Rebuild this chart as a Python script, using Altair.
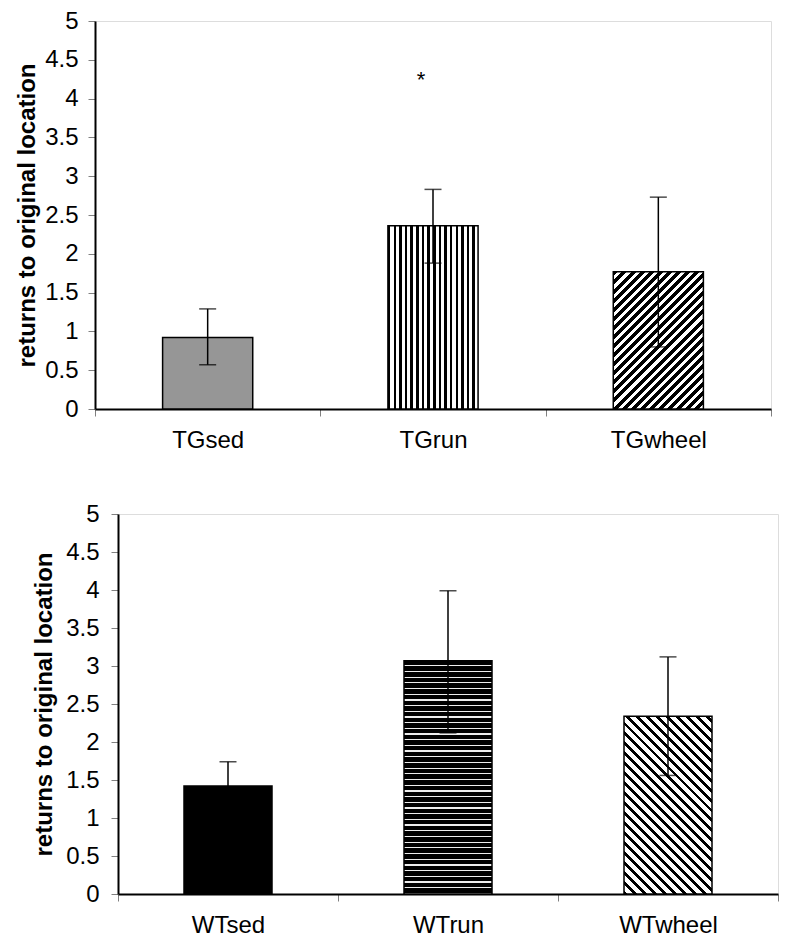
import math
import altair as alt
import pandas as pd

# ---------------- data ----------------
top_groups = ["TGsed", "TGrun", "TGwheel"]
top_means = [0.92, 2.36, 1.77]
top_err_hi = [1.29, 2.83, 2.73]
top_err_lo = [0.57, 1.88, 0.80]

bot_groups = ["WTsed", "WTrun", "WTwheel"]
bot_means = [1.42, 3.07, 2.34]
bot_err_hi = [1.74, 3.99, 3.12]
bot_err_lo = [1.10, 2.12, 1.56]

y_ticks = [0, 0.5, 1, 1.5, 2, 2.5, 3, 3.5, 4, 4.5, 5]
y_title = "returns to original location"
star_group = ["TGrun"]
star_value = [4.24]
star_label = ["*"]

# ---------------- layout / style ----------------
FONT = "Liberation Sans, Arial, Helvetica, sans-serif"
TOP_W, TOP_H = 676, 388
BOT_W, BOT_H = 660, 380
BAR_FRAC = 0.4
Y_MAX = 5
FS = 24


def stripe_gradient(n, frac, fg, bg, x1, y1, x2, y2):
    stops = []
    for k in range(n):
        a = round(k / n, 6)
        b = round((k + frac) / n, 6)
        c = round((k + 1) / n, 6)
        stops += [
            alt.GradientStop(offset=a, color=fg),
            alt.GradientStop(offset=b, color=fg),
            alt.GradientStop(offset=b, color=bg),
            alt.GradientStop(offset=c, color=bg),
        ]
    return alt.LinearGradient(gradient="linear", stops=stops, x1=x1, y1=y1, x2=x2, y2=y2)


def vertical_stripes(bar_w, period, frac, fg, bg):
    n = max(1, round(bar_w / period))
    return stripe_gradient(n, frac, fg, bg, 0, 0, 1, 0)


def horizontal_stripes(bar_h, period, frac, fg, bg):
    n = max(1, round(bar_h / period))
    return stripe_gradient(n, frac, fg, bg, 0, 0, 0, 1)


def diag_up(bar_w, bar_h, period, frac, fg, bg):
    # stripes running bottom-left -> top-right
    span = (bar_w ** 2 + bar_h ** 2) / (bar_w * math.sqrt(2))
    n = max(1, round(span / period))
    return stripe_gradient(n, frac, fg, bg, 0, 0, 1, round(bar_h / bar_w, 5))


def diag_down(bar_w, bar_h, period, frac, fg, bg):
    # stripes running top-left -> bottom-right
    span = (bar_w ** 2 + bar_h ** 2) / (bar_w * math.sqrt(2))
    n = max(1, round(span / period))
    return stripe_gradient(n, frac, fg, bg, 0, 1, 1, round(1 - bar_h / bar_w, 5))


def panel(groups, means, hi, lo, fills, W, H, label_pad, title_pad, star=None):
    df = pd.DataFrame({"group": groups, "mean": means, "hi": hi, "lo": lo})
    xscale = alt.Scale(domain=groups, paddingInner=0, paddingOuter=0)
    yscale = alt.Scale(domain=[0, Y_MAX], nice=False, zero=True)
    xaxis = alt.Axis(
        title=None, labelAngle=0, tickBand="extent", labelFont=FONT,
        labelFontSize=FS, labelColor="black", labelPadding=12,
        tickColor="#808080", tickSize=7, tickWidth=1,
        domainColor="black", domainWidth=2, grid=False,
    )
    yaxis = alt.Axis(
        values=y_ticks, format="~g", title=y_title, labelFont=FONT,
        labelFontSize=FS, labelColor="black", labelPadding=label_pad,
        tickColor="#808080", tickSize=7, tickWidth=1,
        domainColor="black", domainWidth=2, grid=False,
        titleFont=FONT, titleFontSize=FS, titleFontWeight="bold",
        titleColor="black", titlePadding=title_pad,
    )

    def X():
        return alt.X("group:N", scale=xscale, axis=xaxis, sort=groups)

    def Y(f):
        return alt.Y(f, scale=yscale, axis=yaxis)

    base = alt.Chart(df)
    layers = []
    for g, f in zip(groups, fills):
        layers.append(
            base.transform_filter(alt.datum.group == g)
            .mark_bar(fill=f, stroke="black", strokeWidth=1.5,
                      width=alt.RelativeBandSize(BAR_FRAC))
            .encode(x=X(), y=Y("mean:Q"))
        )
    layers.append(
        base.mark_rule(color="black", strokeWidth=1.5)
        .encode(x=X(), y=Y("lo:Q"), y2="hi:Q")
    )
    layers.append(
        base.mark_tick(color="black", thickness=1.5, size=17)
        .encode(x=X(), y=Y("hi:Q"))
    )
    layers.append(
        base.mark_tick(color="black", thickness=1.5, size=17)
        .encode(x=X(), y=Y("lo:Q"))
    )
    if star is not None:
        sdf = pd.DataFrame({"group": star[0], "v": star[1], "t": star[2]})
        layers.append(
            alt.Chart(sdf)
            .mark_text(font=FONT, fontSize=22, color="black", dx=-12, baseline="middle")
            .encode(x=X(), y=Y("v:Q"), text="t:N")
        )
    return alt.layer(*layers).properties(width=W, height=H)


# bar pixel sizes for pattern density
top_bw = TOP_W / len(top_groups) * BAR_FRAC
top_unit = TOP_H / Y_MAX
bot_bw = BOT_W / len(bot_groups) * BAR_FRAC
bot_unit = BOT_H / Y_MAX

top_fills = [
    "#969696",
    vertical_stripes(top_bw, 5.8, 0.45, "black", "white"),
    diag_up(top_bw, top_means[2] * top_unit, 6.4, 0.55, "black", "white"),
]
bot_fills = [
    "black",
    horizontal_stripes(bot_means[1] * bot_unit, 5.7, 0.78, "black", "#eeeeee"),
    diag_down(bot_bw, bot_means[2] * bot_unit, 7.0, 0.4, "black", "white"),
]

top = panel(top_groups, top_means, top_err_hi, top_err_lo, top_fills,
            TOP_W, TOP_H, 10, 5, star=(star_group, star_value, star_label))
bottom = panel(bot_groups, bot_means, bot_err_hi, bot_err_lo, bot_fills,
               BOT_W, BOT_H, 12, 9)

spacer = (
    alt.Chart(pd.DataFrame({"a": [0]}))
    .mark_point(opacity=0)
    .encode(x=alt.value(0), y=alt.value(0))
    .properties(width=23, height=BOT_H, view=alt.ViewBackground(stroke="transparent"))
)

chart = (
    alt.vconcat(
        top,
        alt.hconcat(spacer, bottom, spacing=0, bounds="flush"),
        spacing=105,
        bounds="flush",
    )
    .properties(padding={"left": 7, "top": 0, "right": 5, "bottom": 5})
    .configure_view(stroke="black", strokeWidth=2)
    .configure(background="white")
)

chart.save("out.html", embed_options={"renderer": "svg", "actions": False})
